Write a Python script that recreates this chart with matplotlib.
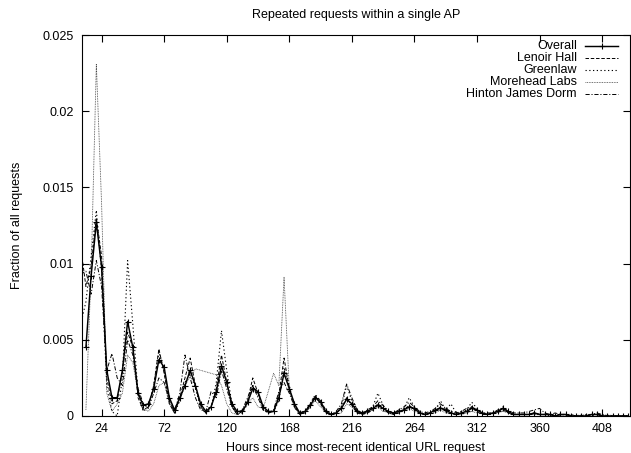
import numpy as np
import matplotlib
matplotlib.use("Agg")
import matplotlib.pyplot as plt

# -------------------- data (4-hour bins)
HOURS = list(range(8, 429, 4))

OVERALL = [
    np.nan, 0.0045, 0.0092, 0.0127, 0.0098, 0.0030,
    0.0012, 0.0012, 0.0030, 0.0062, 0.0045, 0.0015,
    0.0007, 0.0008, 0.0018, 0.0037, 0.0032, 0.0012,
    0.0004, 0.0012, 0.0020, 0.0030, 0.0020, 0.0008,
    0.0003, 0.0006, 0.0016, 0.0033, 0.0022, 0.0008,
    0.0003, 0.0003, 0.0009, 0.0018, 0.0016, 0.0006,
    0.0003, 0.0003, 0.0012, 0.0028, 0.0018, 0.0008,
    0.0002, 0.0003, 0.0007, 0.0012, 0.0009, 0.0003,
    0.0001, 0.0002, 0.0005, 0.0011, 0.0008, 0.0003,
    0.0002, 0.0003, 0.0005, 0.0007, 0.0005, 0.0003,
    0.0002, 0.0003, 0.0004, 0.0006, 0.0005, 0.0002,
    0.0001, 0.0002, 0.0004, 0.0005, 0.0004, 0.0002,
    0.0001, 0.0002, 0.0003, 0.0005, 0.0004, 0.0002,
    0.0001, 0.0002, 0.0003, 0.0005, 0.0003, 0.0001,
    0.0001, 0.0001, 0.0001, 0.0002, 0.0001, 0.0001,
    0.0001, 0.0000, 0.0001, 0.0001, 0.0000, 0.0000,
    0.0000, 0.0000, 0.0001, 0.0001, 0.0000, 0.0000,
    0.0000, 0.0000, 0.0000, 0.0000,
]

LENOIR = [
    0.0111, 0.0085, 0.0098, 0.0130, 0.0105, 0.0025,
    0.0008, 0.0010, 0.0030, 0.0055, 0.0045, 0.0012,
    0.0004, 0.0006, 0.0020, 0.0044, 0.0028, 0.0008,
    0.0002, 0.0012, 0.0025, 0.0038, 0.0020, 0.0006,
    0.0002, 0.0006, 0.0018, 0.0040, 0.0022, 0.0006,
    0.0001, 0.0003, 0.0010, 0.0025, 0.0015, 0.0005,
    0.0002, 0.0003, 0.0014, 0.0038, 0.0018, 0.0007,
    0.0001, 0.0002, 0.0006, 0.0013, 0.0008, 0.0002,
    0.0001, 0.0002, 0.0005, 0.0012, 0.0007, 0.0002,
    0.0001, 0.0002, 0.0004, 0.0008, 0.0005, 0.0002,
    0.0001, 0.0002, 0.0004, 0.0007, 0.0004, 0.0002,
    0.0001, 0.0002, 0.0003, 0.0006, 0.0003, 0.0002,
    0.0001, 0.0002, 0.0003, 0.0006, 0.0003, 0.0001,
    0.0001, 0.0001, 0.0003, 0.0004, 0.0002, 0.0001,
    0.0001, 0.0001, 0.0001, 0.0002, 0.0001, 0.0001,
    0.0001, 0.0000, 0.0001, 0.0001, 0.0000, 0.0000,
    0.0000, 0.0000, 0.0001, 0.0001, 0.0000, 0.0000,
    0.0000, 0.0000, 0.0000, 0.0000,
]

GREENLAW = [
    0.0060, 0.0075, 0.0105, 0.0135, 0.0095, 0.0020,
    0.0003, 0.0000, 0.0025, 0.0102, 0.0060, 0.0015,
    0.0003, 0.0006, 0.0020, 0.0042, 0.0030, 0.0010,
    0.0002, 0.0010, 0.0022, 0.0028, 0.0018, 0.0006,
    0.0002, 0.0005, 0.0022, 0.0056, 0.0030, 0.0008,
    0.0001, 0.0002, 0.0008, 0.0020, 0.0014, 0.0004,
    0.0002, 0.0003, 0.0010, 0.0032, 0.0020, 0.0006,
    0.0001, 0.0003, 0.0008, 0.0014, 0.0010, 0.0003,
    0.0001, 0.0002, 0.0006, 0.0020, 0.0010, 0.0003,
    0.0001, 0.0003, 0.0006, 0.0015, 0.0007, 0.0002,
    0.0001, 0.0002, 0.0005, 0.0012, 0.0006, 0.0002,
    0.0001, 0.0002, 0.0004, 0.0010, 0.0004, 0.0008,
    0.0002, 0.0002, 0.0004, 0.0009, 0.0005, 0.0002,
    0.0001, 0.0002, 0.0003, 0.0006, 0.0003, 0.0001,
    0.0001, 0.0001, 0.0001, 0.0002, 0.0001, 0.0001,
    0.0000, 0.0000, 0.0001, 0.0001, 0.0000, 0.0000,
    0.0000, 0.0000, 0.0000, 0.0001, 0.0000, 0.0000,
    0.0000, 0.0000, 0.0000, 0.0000,
]

HINTON = [
    0.0093, 0.0095, 0.0080, 0.0102, 0.0085, 0.0030,
    0.0041, 0.0025, 0.0020, 0.0050, 0.0040, 0.0018,
    0.0008, 0.0005, 0.0015, 0.0025, 0.0022, 0.0010,
    0.0003, 0.0015, 0.0040, 0.0025, 0.0012, 0.0004,
    0.0003, 0.0016, 0.0012, 0.0030, 0.0018, 0.0006,
    0.0002, 0.0004, 0.0012, 0.0020, 0.0012, 0.0004,
    0.0002, 0.0004, 0.0016, 0.0022, 0.0015, 0.0006,
    0.0002, 0.0003, 0.0008, 0.0013, 0.0010, 0.0004,
    0.0001, 0.0003, 0.0008, 0.0021, 0.0012, 0.0004,
    0.0002, 0.0004, 0.0006, 0.0010, 0.0007, 0.0003,
    0.0002, 0.0004, 0.0006, 0.0009, 0.0006, 0.0003,
    0.0002, 0.0003, 0.0005, 0.0008, 0.0005, 0.0003,
    0.0002, 0.0003, 0.0005, 0.0006, 0.0004, 0.0002,
    0.0002, 0.0002, 0.0004, 0.0005, 0.0003, 0.0002,
    0.0002, 0.0002, 0.0003, 0.0004, 0.0005, 0.0002,
    0.0001, 0.0002, 0.0001, 0.0001, 0.0001, 0.0000,
    0.0000, 0.0001, 0.0001, 0.0002, 0.0001, 0.0000,
    0.0000, 0.0000, 0.0000, 0.0000,
]

# Morehead has gaps (empty bins are skipped, gnuplot joins the neighbours)
MOREHEAD_HOURS = [
    12, 16, 20, 24, 28, 32, 36, 40, 44, 48, 52, 56, 60, 64, 68, 72, 76,
    80, 84, 88, 92, 96, 112, 116, 120, 124, 128, 132, 136, 140, 144, 148,
    156, 160, 164, 168, 172, 176, 180, 184, 188, 192, 196, 200, 208, 212,
    216, 220, 228, 232, 236, 240, 248, 256, 260, 264, 272, 280, 284, 288,
    300, 308, 312, 320, 332, 340, 360, 380, 400, 428,
]
MOREHEAD = [
    0.0004, 0.0095, 0.0231, 0.0140, 0.0015, 0.0003, 0.0008, 0.0015, 0.0040,
    0.0035, 0.0015, 0.0005, 0.0003, 0.0008, 0.0020, 0.0022, 0.0008,
    0.0003, 0.0010, 0.0020, 0.0026, 0.0031, 0.0027, 0.0020, 0.0008, 0.0002,
    0.0001, 0.0003, 0.0008, 0.0012, 0.0006, 0.0005,
    0.0028, 0.0020, 0.0091, 0.0018, 0.0005, 0.0002, 0.0003, 0.0006, 0.0010,
    0.0006, 0.0002, 0.0001, 0.0002, 0.0008,
    0.0006, 0.0002, 0.0002, 0.0004, 0.0006, 0.0003, 0.0002, 0.0003, 0.0005,
    0.0003, 0.0001, 0.0002, 0.0004, 0.0002,
    0.0001, 0.0003, 0.0002, 0.0001, 0.0003, 0.0001, 0.0001, 0.0000, 0.0001,
    0.0000,
]

X_TICKS = [24, 72, 120, 168, 216, 264, 312, 360, 408]
Y_TICKS = [0, 0.005, 0.01, 0.015, 0.02, 0.025]
Y_TICK_LABELS = ["0", "0.005", "0.01", "0.015", "0.02", "0.025"]

# -------------------- style
FS = 9
plt.rcParams.update({
    "font.family": ["Liberation Sans", "DejaVu Sans"],
    "font.size": FS,
    "lines.scale_dashes": False,
})

SERIES = [
    # label, x, y, style
    ("Overall", HOURS, OVERALL,
     dict(color="black", lw=1.05, ls="-", marker="+", ms=5, mew=0.8)),
    ("Lenoir Hall", HOURS, LENOIR,
     dict(color="black", lw=0.7, ls=(0, (2.5, 1.3)))),
    ("Greenlaw", HOURS, GREENLAW,
     dict(color="black", lw=0.8, ls=(0, (0.9, 1.8)))),
    ("Morehead Labs", MOREHEAD_HOURS, MOREHEAD,
     dict(color="#444444", lw=0.6, ls=(0, (0.6, 0.6)))),
    ("Hinton James Dorm", HOURS, HINTON,
     dict(color="black", lw=0.7, ls=(0, (3.0, 1.3, 0.8, 1.3)))),
]

fig = plt.figure(figsize=(6.31, 4.53), dpi=100)
ax = fig.add_axes([82 / 631, 1 - 416 / 453, 547.5 / 631, 381 / 453])

# draw in reverse so Overall ends on top
for label, xs, ys, st in reversed(SERIES):
    ax.plot(xs, ys, **st)

# -------------------- legend (gnuplot style: text right-aligned, sample on the right)
x_text = (577 - 82) / 547.5
x0, x1 = (585 - 82) / 547.5, (618 - 82) / 547.5
y_top = (416 - 46) / 381
dy = 12 / 381
for i, (label, xs, ys, st) in enumerate(SERIES):
    yy = y_top - i * dy
    ax.text(x_text, yy, label, transform=ax.transAxes, ha="right", va="center")
    st2 = {k: v for k, v in st.items() if k not in ("marker", "ms", "mew")}
    ax.plot([x0, x1], [yy, yy], transform=ax.transAxes, **st2)
    if "marker" in st:
        ax.plot([(x0 + x1) / 2], [yy], transform=ax.transAxes, color=st["color"],
                marker=st["marker"], ms=st["ms"], mew=st["mew"], ls="none")

# -------------------- axes
ax.set_xlim(9, 429)
ax.set_ylim(0, 0.025)
ax.set_xticks(X_TICKS)
ax.set_yticks(Y_TICKS)
ax.set_yticklabels(Y_TICK_LABELS)
ax.tick_params(direction="in", length=5, width=0.8, top=True, right=True,
               labelsize=FS, pad=6)
ax.tick_params(axis="x", pad=5)
for sp in ax.spines.values():
    sp.set_linewidth(0.8)

ax.set_title("Repeated requests within a single AP", fontsize=FS, pad=12)
ax.set_xlabel("Hours since most-recent identical URL request", labelpad=5)
ax.set_ylabel("Fraction of all requests", labelpad=14)

fig.savefig("out.png", dpi=100)
